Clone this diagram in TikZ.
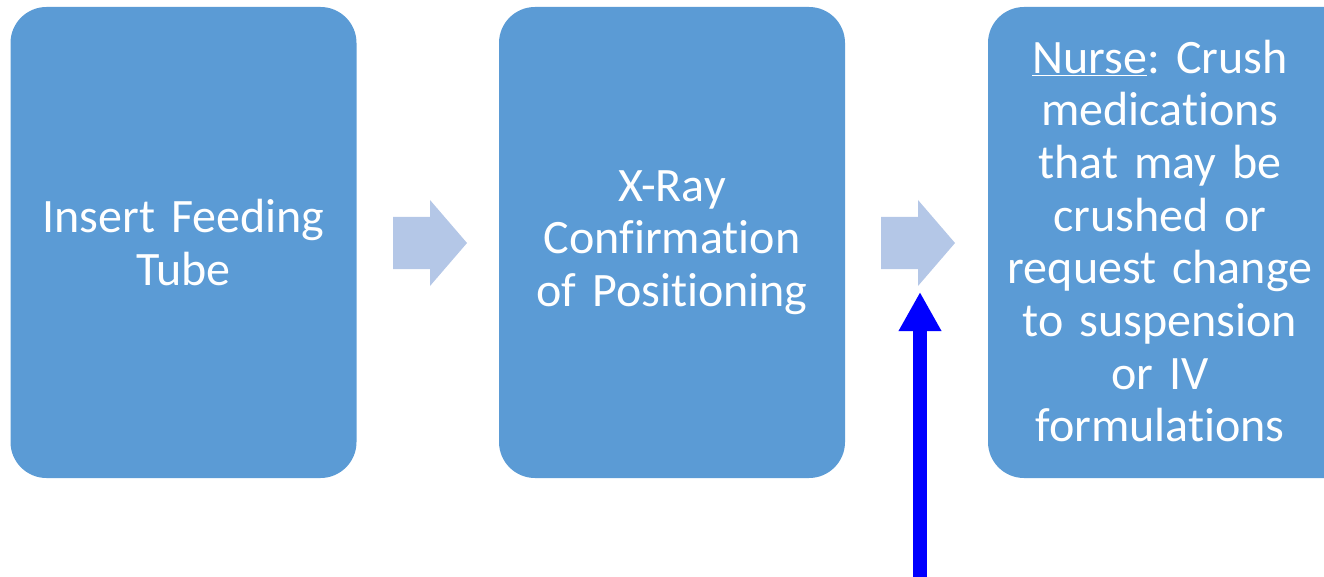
\documentclass[tikz,border=0pt]{standalone}
\usepackage{fontspec}
\setmainfont{Carlito}[Ligatures={NoCommon}, WordSpace=0.8]
\frenchspacing
\usetikzlibrary{arrows.meta}
\definecolor{boxblue}{HTML}{5B9BD5}
\definecolor{chevron}{HTML}{B4C7E7}
\definecolor{pointer}{HTML}{0000FF}
\tikzset{
  stepbox/.style={fill=boxblue, draw=none, rounded corners=36pt,
    minimum width=346pt, minimum height=471pt, inner sep=0pt,
    text=white, text width=330pt, align=center,
    font=\fontsize{48}{52.7}\selectfont},
  steptext/.style={text=white, align=center, text width=340pt,
    font=\fontsize{48}{52.7}\selectfont},
  flowarrow/.style={fill=chevron, draw=none},
  pointerline/.style={draw=pointer, line width=14pt,
    -{Triangle[width=40pt,length=39pt]}}
}
\begin{document}
\begin{tikzpicture}[x=1pt,y=-1pt]
  \useasboundingbox (0,0) rectangle (1324,577);
  \node[stepbox] (insert) at (183.5,242.5) {Insert Feeding\\Tube};
  \node[stepbox] (xray) at (672,242.5) {X-Ray\\Confirmation\\of Positioning};
  \node[stepbox, minimum width=372pt] (nurse) at (1174,242.5) {};
  \node[steptext] (nursetext) at (1160,241)
    {\underline{Nurse}: Crush\\medications\\that may be\\crushed or\\request change\\to suspension\\or IV\\formulations};
  % block arrows between the steps
  \fill[flowarrow] (393,217) -- (430,217) -- (430,200) -- (467,243) -- (430,286) -- (430,269) -- (393,269) -- cycle;
  \fill[flowarrow] (881,217) -- (918,217) -- (918,200) -- (955,243) -- (918,286) -- (918,269) -- (881,269) -- cycle;
  \coordinate (pointerfoot) at (920,577);
  \coordinate (pointertip) at (920,292);
  \draw[pointerline] (pointerfoot) -- (pointertip);
\end{tikzpicture}
\end{document}
